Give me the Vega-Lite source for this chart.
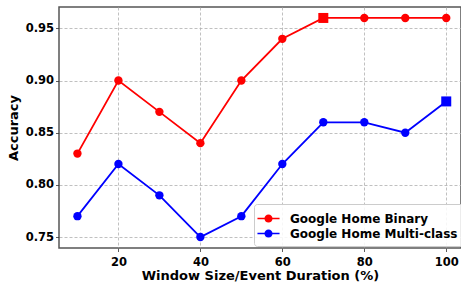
{
  "$schema": "https://vega.github.io/schema/vega-lite/v6.json",
  "width": 402,
  "height": 241,
  "autosize": {"type": "none"},
  "padding": {"left": 59, "top": 7, "right": 0, "bottom": 36},
  "background": "white",
  "config": {
    "font": "DejaVu Sans",
    "view": {"stroke": "#555555", "strokeWidth": 1.5},
    "axis": {
      "labelFont": "DejaVu Sans",
      "labelFontWeight": "bold",
      "labelFontSize": 11.5,
      "labelColor": "black",
      "titleFont": "DejaVu Sans",
      "titleFontWeight": "bold",
      "titleFontSize": 13,
      "titleColor": "black",
      "tickColor": "#333333",
      "tickSize": 3.5,
      "tickWidth": 0.8,
      "labelPadding": 2,
      "domain": false,
      "grid": true,
      "gridColor": "#b0b0b0",
      "gridDash": [3, 2],
      "gridWidth": 0.8
    }
  },
  "data": {
    "values": [
      {"x": 10, "acc": 0.83, "series": "Google Home Binary", "best": false},
      {"x": 20, "acc": 0.90, "series": "Google Home Binary", "best": false},
      {"x": 30, "acc": 0.87, "series": "Google Home Binary", "best": false},
      {"x": 40, "acc": 0.84, "series": "Google Home Binary", "best": false},
      {"x": 50, "acc": 0.90, "series": "Google Home Binary", "best": false},
      {"x": 60, "acc": 0.94, "series": "Google Home Binary", "best": false},
      {"x": 70, "acc": 0.96, "series": "Google Home Binary", "best": true},
      {"x": 80, "acc": 0.96, "series": "Google Home Binary", "best": false},
      {"x": 90, "acc": 0.96, "series": "Google Home Binary", "best": false},
      {"x": 100, "acc": 0.96, "series": "Google Home Binary", "best": false},
      {"x": 10, "acc": 0.77, "series": "Google Home Multi-class", "best": false},
      {"x": 20, "acc": 0.82, "series": "Google Home Multi-class", "best": false},
      {"x": 30, "acc": 0.79, "series": "Google Home Multi-class", "best": false},
      {"x": 40, "acc": 0.75, "series": "Google Home Multi-class", "best": false},
      {"x": 50, "acc": 0.77, "series": "Google Home Multi-class", "best": false},
      {"x": 60, "acc": 0.82, "series": "Google Home Multi-class", "best": false},
      {"x": 70, "acc": 0.86, "series": "Google Home Multi-class", "best": false},
      {"x": 80, "acc": 0.86, "series": "Google Home Multi-class", "best": false},
      {"x": 90, "acc": 0.85, "series": "Google Home Multi-class", "best": false},
      {"x": 100, "acc": 0.88, "series": "Google Home Multi-class", "best": true}
    ]
  },
  "encoding": {
    "x": {
      "field": "x",
      "type": "quantitative",
      "scale": {"domain": [5.5, 103.6], "nice": false, "zero": false},
      "axis": {"values": [20, 40, 60, 80, 100], "title": "Window Size/Event Duration (%)", "labelPadding": 4.5, "titlePadding": 1.5}
    },
    "y": {
      "field": "acc",
      "type": "quantitative",
      "scale": {"domain": [0.7395, 0.9705], "nice": false, "zero": false},
      "axis": {"values": [0.75, 0.80, 0.85, 0.90, 0.95], "format": ".2f", "title": "Accuracy", "titlePadding": 5}
    },
    "color": {
      "field": "series",
      "type": "nominal",
      "scale": {"domain": ["Google Home Binary", "Google Home Multi-class"], "range": ["#ff0000", "#0000ff"]},
      "legend": {
        "title": null,
        "orient": "none",
        "legendX": 195,
        "legendY": 197,
        "symbolType": "M-1.3,-0.09 H-0.45 V0.09 H-1.3 Z M0.45,-0.09 H1.3 V0.09 H0.45 Z M-0.48,0 A0.48,0.48 0 1,1 0.48,0 A0.48,0.48 0 1,1 -0.48,0 Z",
        "symbolSize": 289,
        "labelFont": "DejaVu Sans",
        "labelFontWeight": "bold",
        "labelFontSize": 12,
        "labelColor": "black",
        "labelLimit": 400,
        "labelOffset": 13,
        "rowPadding": 0,
        "padding": 6,
        "strokeColor": "#cccccc",
        "fillColor": "rgba(255,255,255,0.85)",
        "cornerRadius": 3,
        "encode": {
          "symbols": {
            "update": {
              "fill": {"scale": "color", "field": "value"},
              "fillOpacity": {"value": 1},
              "stroke": {"value": "transparent"},
              "strokeWidth": {"value": 0},
              "opacity": {"value": 1}
            }
          }
        }
      }
    }
  },
  "layer": [
    {
      "mark": {"type": "line", "strokeWidth": 1.8}
    },
    {
      "transform": [{"filter": "!datum.best"}],
      "mark": {"type": "point", "shape": "circle", "filled": true, "opacity": 1, "size": 70}
    },
    {
      "transform": [{"filter": "datum.best"}],
      "mark": {"type": "point", "shape": "square", "filled": true, "opacity": 1, "size": 100}
    }
  ]
}
